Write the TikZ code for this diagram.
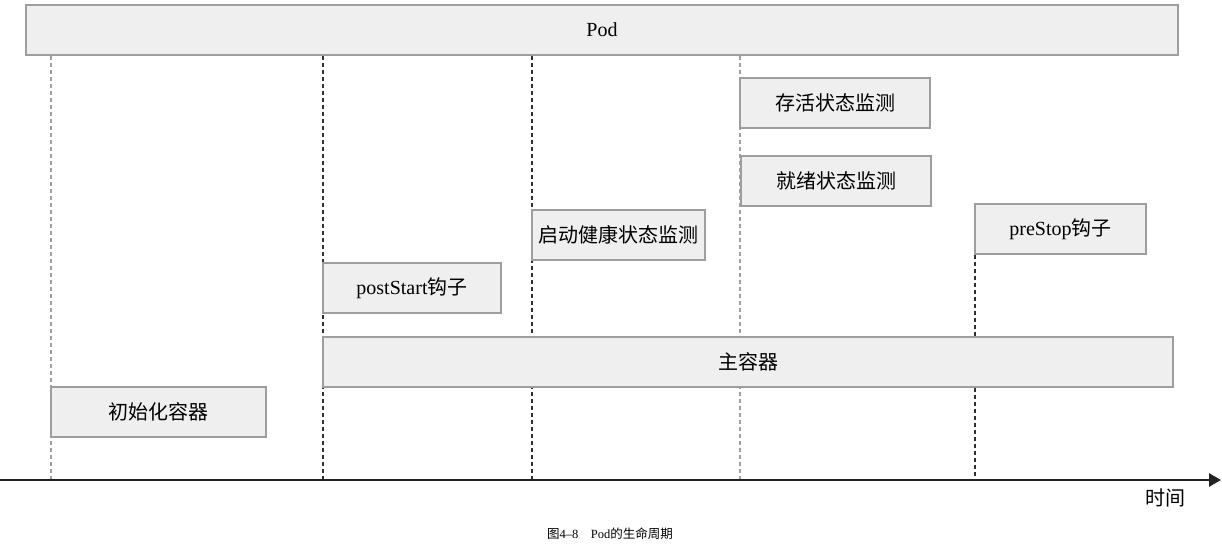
\documentclass[tikz,border=0pt]{standalone}
\usepackage{fontspec}
\setmainfont{Liberation Serif}
\newfontfamily\cjk{Noto Sans CJK SC}
\usetikzlibrary{arrows.meta}

\definecolor{boxfill}{HTML}{EFEFEF}
\definecolor{boxline}{HTML}{9E9E9E}
\definecolor{lightdash}{HTML}{A0A0A0}
\definecolor{darkdash}{HTML}{303030}
\definecolor{axisline}{HTML}{222222}

\begin{document}
\begin{tikzpicture}[x=1pt,y=-1pt]
		\tikzstyle{phase}=[rectangle,draw=boxline,fill=boxfill,line width=1.3pt,
							inner sep=0pt,minimum height=50pt,
							font=\fontsize{20}{24}\selectfont]
		\tikzstyle{guide}=[dash pattern=on 4pt off 3pt,line width=1.3pt]

		\useasboundingbox (0,0) rectangle (1222,544);

		% time points on the axis
		\foreach \name/\x in {t_1/51, t_2/323, t_3/532, t_4/740, t_5/975}
			\coordinate (\name) at (\x,480);

		% Pod
		\node[phase,minimum width=1152pt] (Pod) at (602,30) {Pod};

		% guides
		\foreach \tname/\col in {t_1/lightdash, t_2/darkdash, t_3/darkdash, t_4/lightdash}
			\draw[guide,\col] (\tname |- Pod.south) -- (\tname);

		% probes and hooks
		\node[phase,minimum width=190pt] (live) at (835,103) {\cjk 存活状态监测};
		\node[phase,minimum width=190pt] (ready) at (836,181) {\cjk 就绪状态监测};
		\node[phase,minimum width=173pt] (startup) at (618.5,235) {\cjk 启动健康状态监测};
		\node[phase,minimum width=171pt] (prestop) at (1060.5,229) {preStop{\cjk 钩子}};
		\node[phase,minimum width=178pt] (poststart) at (412,288) {postStart{\cjk 钩子}};

		\draw[guide,darkdash] (t_5 |- prestop.south) -- (t_5);

		% containers
		\node[phase,minimum width=850pt] (main) at (748,362) {\cjk 主容器};
		\node[phase,minimum width=215pt] (init) at (158.5,412) {\cjk 初始化容器};

		% axis
		\coordinate (start) at (0,480);
		\coordinate (end) at (1221,480);
		\draw[axisline,line width=2.6pt,-{Triangle[length=12pt,width=13pt]}] (start) -- (end);
		\node[font=\fontsize{20}{24}\selectfont\cjk] (time) at (1165,498) {时间};

		% caption
		\node[font=\fontsize{12.5}{15}\selectfont] (caption) at (610,534)
			{{\cjk 图}4--8\quad Pod{\cjk 的生命周期}};
	\end{tikzpicture}
\end{document}
